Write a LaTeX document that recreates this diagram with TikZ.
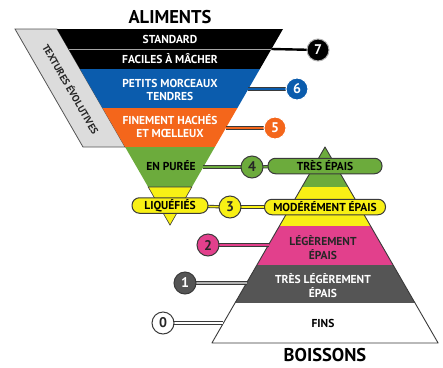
\documentclass[tikz,border=0pt]{standalone}
\usepackage{fontspec}
\setmainfont{PT Sans}
\definecolor{cblue}{HTML}{0B5CAD}
\definecolor{corange}{HTML}{F4661B}
\definecolor{cgreen}{HTML}{6CAB3C}
\definecolor{cyellow}{HTML}{F8F015}
\definecolor{cpink}{HTML}{E2408C}
\definecolor{cgray}{HTML}{555555}
\definecolor{cband}{HTML}{DCDCDC}
\definecolor{cline}{HTML}{3A3A3A}
\begin{document}
\begin{tikzpicture}[x=1pt,y=-1pt,
  bandtxt/.style={font=\fontsize{11.5}{13.5}\selectfont\bfseries, align=center, inner sep=0pt},
  title/.style={font=\fontsize{18.5}{20}\selectfont\bfseries, inner sep=0pt},
  numc/.style={circle, minimum size=22pt, inner sep=0pt, line width=1pt, font=\fontsize{14}{14}\selectfont\bfseries},
  pill/.style={rounded corners=7.5pt, draw=cline, line width=1pt, minimum height=15.5pt, inner sep=0pt, font=\fontsize{11.5}{12}\selectfont\bfseries},
  conn/.style={line width=3.2pt, draw=cline, postaction={draw=#1, line width=1.5pt}},
  edgeline/.style={draw=cline, line width=0.9pt, line join=round}
]
\useasboundingbox (0,0) rectangle (443,367);

% ---------- inverted trapezoid (aliments) ----------
\fill[cband, draw=cgray, line width=0.8pt] (15,29) -- (57,29) -- (125.1,147) -- (83,147) -- cycle;
\fill[black] (57,29) -- (283,29) -- (259.9,69) -- (80.1,69) -- cycle;
\fill[cblue] (80.1,69) -- (259.9,69) -- (237.4,108) -- (102.6,108) -- cycle;
\fill[corange] (102.6,108) -- (237.4,108) -- (214.9,147) -- (125.1,147) -- cycle;
\fill[cgreen] (125.1,147) -- (214.9,147) -- (191.8,187) -- (148.2,187) -- cycle;
\fill[cyellow, draw=cline, line width=0.6pt] (148.2,187) -- (191.8,187) -- (170,225.1) -- cycle;
\draw[gray!70, line width=1pt] (68.5,49) -- (271.5,49);

\node[title] (alim) at (170,17) {ALIMENTS};
\node[bandtxt, text=white] (std) at (170,39) {STANDARD};
\node[bandtxt, text=white] (fac) at (170,59) {FACILES À MÂCHER};
\node[bandtxt, text=white] (pet) at (170,90) {PETITS MORCEAUX\\TENDRES};
\node[bandtxt, text=white] (fin) at (170,126) {FINEMENT HACHÉS\\ET MŒLLEUX};
\node[bandtxt, text=black] (pur) at (171,166) {EN PURÉE};
\node[font=\fontsize{10}{10}\selectfont\bfseries, text=black!85, rotate=-60, inner sep=0pt] (tex) at (71,89) {TEXTURES ÉVOLUTIVES};

% ---------- pyramid (boissons) ----------
\fill[cgreen] (325,147) -- (348.1,187) -- (301.9,187) -- cycle;
\fill[cyellow] (301.9,187) -- (348.1,187) -- (370.6,226) -- (279.4,226) -- cycle;
\fill[cpink] (279.4,226) -- (370.6,226) -- (393.1,265) -- (256.9,265) -- cycle;
\fill[cgray] (256.9,265) -- (393.1,265) -- (415,303) -- (235,303) -- cycle;
\fill[white] (235,303) -- (415,303) -- (438.1,343) -- (211.9,343) -- cycle;
\draw[edgeline] (325,147) -- (438.1,343) -- (211.9,343) -- cycle;

\node[title] (bois) at (325,355.5) {BOISSONS};
\node[bandtxt, text=black!85] (leg) at (323,247.5) {LÉGÈREMENT\\ÉPAIS};
\node[bandtxt, text=white] (tleg) at (323,285.5) {TRÈS LÉGÈREMENT\\ÉPAIS};
\node[bandtxt, text=black] (fins) at (323,323) {FINS};

% ---------- edge coordinates ----------
\coordinate (e7) at (271.5,49);
\coordinate (e6) at (248.4,89);
\coordinate (e5) at (225.9,128);
\coordinate (e4) at (203.4,167);
\coordinate (e2) at (268.5,245);
\coordinate (e1) at (246.5,283);
\coordinate (e0) at (223.4,323);

% ---------- circle and pill positions ----------
\coordinate (p7) at (318,50);
\coordinate (p6) at (297,89);
\coordinate (p5) at (275,128);
\coordinate (p4) at (252,167);
\coordinate (p3) at (230,207);
\coordinate (p2) at (208,245);
\coordinate (p1) at (185,283);
\coordinate (p0) at (163,323);
\coordinate (ptp) at (325,166);
\coordinate (pliq) at (170,205.5);
\coordinate (pmod) at (325,207);

% ---------- connectors ----------
\draw[line width=2.4pt, black] (e7) -- (p7);
\draw[conn=cblue] (e6) -- (p6);
\draw[conn=corange] (e5) -- (p5);
\draw[conn=cgreen] (e4) -- (p4);
\draw[conn=cgreen] (p4) -- (ptp);
\draw[conn=cyellow] (pliq) -- (p3);
\draw[conn=cyellow] (p3) -- (pmod);
\draw[conn=cpink] (p2) -- (e2);
\draw[conn=gray!60] (p1) -- (e1);
\draw[conn=white] (p0) -- (e0);

% ---------- circles and pills ----------
\node[numc, fill=black, draw=gray!60, text=white] (c7) at (p7) {7};
\node[numc, fill=cblue, draw=white, text=white] (c6) at (p6) {6};
\node[numc, fill=corange, draw=white, text=white] (c5) at (p5) {5};
\node[numc, fill=cgreen, draw=cline, text=black!85] (c4) at (p4) {4};
\node[numc, fill=cyellow, draw=cline, text=black!85] (c3) at (p3) {3};
\node[numc, fill=cpink, draw=cline, text=black!85] (c2) at (p2) {2};
\node[numc, fill=cgray, draw=cline, text=white] (c1) at (p1) {1};
\node[numc, fill=white, draw=cline, text=black!85] (c0) at (p0) {0};
\node[pill, fill=cgreen, minimum width=114pt] (tp) at (ptp) {TRÈS ÉPAIS};
\node[pill, fill=cyellow, minimum width=76pt] (liq) at (pliq) {LIQUÉFIÉS};
\node[pill, fill=cyellow, minimum width=121pt] (mod) at (pmod) {MODÉRÉMENT ÉPAIS};
\end{tikzpicture}
\end{document}
